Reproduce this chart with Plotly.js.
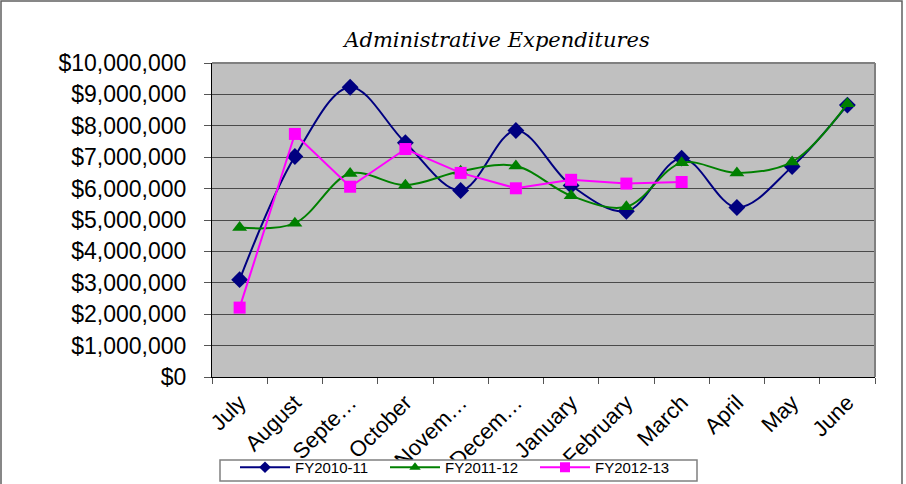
<!DOCTYPE html>
<html>
<head>
<meta charset="utf-8">
<script src="https://cdn.plot.ly/plotly-3.0.1.min.js"></script>
<style>
html,body{margin:0;padding:0;background:#fff;}
#chart{width:906px;height:484px;}
</style>
</head>
<body>
<div id="chart"></div>
<script>
const months = ["July","August","Septe…","October","Novem…","Decem…","January","February","March","April","May","June"];
const fy1011 = [3100000,7020000,9230000,7460000,5940000,7850000,6100000,5280000,6970000,5400000,6700000,8660000];
const fy1112 = [4760000,4900000,6480000,6110000,6550000,6720000,5770000,5420000,6820000,6500000,6850000,8700000];
const fy1213 = [2210000,7740000,6060000,7260000,6500000,6010000,6280000,6160000,6210000];
const seriesNames = ["FY2010-11","FY2011-12","FY2012-13"];
const yTicks = [0,1000000,2000000,3000000,4000000,5000000,6000000,7000000,8000000,9000000,10000000];
const yTickLabels = ["$0","$1,000,000","$2,000,000","$3,000,000","$4,000,000","$5,000,000","$6,000,000","$7,000,000","$8,000,000","$9,000,000","$10,000,000"];

const colors = ['#000080','#008000','#FF00FF'];
const symbols = ['diamond','triangle-up','square'];

const traces = [
  {x: months, y: fy1011, name: seriesNames[0], type:'scatter', mode:'lines+markers', showlegend:false,
   line:{color:colors[0], width:2, shape:'spline', smoothing:1},
   marker:{symbol:symbols[0], size:13, color:colors[0]}},
  {x: months, y: fy1112, name: seriesNames[1], type:'scatter', mode:'lines+markers', showlegend:false,
   line:{color:colors[1], width:2, shape:'spline', smoothing:1},
   marker:{symbol:symbols[1], size:13, color:colors[1]}},
  {x: months.slice(0, fy1213.length), y: fy1213, name: seriesNames[2], type:'scatter', mode:'lines+markers', showlegend:false,
   line:{color:colors[2], width:2},
   marker:{symbol:symbols[2], size:12, color:colors[2]}}
];
// legend-only entries with smaller legend symbols
seriesNames.forEach((n,i)=>{
  traces.push({x:[null], y:[null], name:n, type:'scatter', mode:'lines+markers', showlegend:true,
    line:{color:colors[i], width:2}, marker:{symbol:symbols[i], size:[9,10,10][i], color:colors[i]}});
});

const L=212, R=875, T=63, B=377, W=906, H=484;
const pw = R-L, ph = B-T;
function px(x){return (x-L)/pw;}
function py(y){return (B-y)/ph;}

const layout = {
  width: W, height: H,
  margin:{l:L, r:W-R, t:T, b:H-B, pad:0, autoexpand:false},
  paper_bgcolor:'#ffffff',
  plot_bgcolor:'#C0C0C0',
  font:{family:'Liberation Sans, Arial, sans-serif', color:'#000'},
  title:{text:'Administrative Expenditures', font:{family:'DejaVu Serif, serif', size:21, style:'italic', color:'#000'},
    xref:'container', yref:'container', x:497/W, y:1-40/H, xanchor:'center', yanchor:'middle'},
  showlegend:true,
  legend:{orientation:'h', xref:'container', yref:'container', x:235/W, y:1-451/H, xanchor:'left', yanchor:'top',
    borderwidth:0, bgcolor:'rgba(0,0,0,0)', font:{size:15},
    entrywidth:85, itemwidth:50, tracegroupgap:0},
  xaxis:{type:'category', range:[-0.5,11.5], showgrid:false, zeroline:false,
    showline:true, linecolor:'#000', linewidth:1,
    ticks:'outside', tickson:'boundaries', ticklen:6, tickcolor:'#555',
    tickangle:-45, tickfont:{size:22}, ticklabelstandoff:3, automargin:false},
  yaxis:{range:[0,10000000], tickvals:yTicks, ticktext:yTickLabels,
    showgrid:true, gridcolor:'#4a4a4a', gridwidth:1, zeroline:false,
    showline:true, linecolor:'#000', linewidth:1,
    ticks:'outside', ticklen:7, tickcolor:'#555', tickfont:{size:23}, ticklabelstandoff:13, automargin:false},
  shapes:[
    {type:'line', xref:'paper', yref:'paper', x0:0, x1:1, y0:1, y1:1, line:{color:'#808080', width:2}},
    {type:'line', xref:'paper', yref:'paper', x0:1, x1:1, y0:0, y1:1, line:{color:'#808080', width:2}},
    {type:'rect', xref:'paper', yref:'paper', x0:px(1), x1:px(902), y0:py(H+5), y1:py(1), line:{color:'#606060', width:1.5}, fillcolor:'rgba(0,0,0,0)', layer:'above'},
    {type:'rect', xref:'paper', yref:'paper', x0:px(220), x1:px(697), y0:py(481), y1:py(460), line:{color:'#808080', width:1.5}, fillcolor:'#ffffff', layer:'above'}
  ]
};

Plotly.newPlot('chart', traces, layout, {staticPlot:true, displayModeBar:false});
</script>
</body>
</html>
